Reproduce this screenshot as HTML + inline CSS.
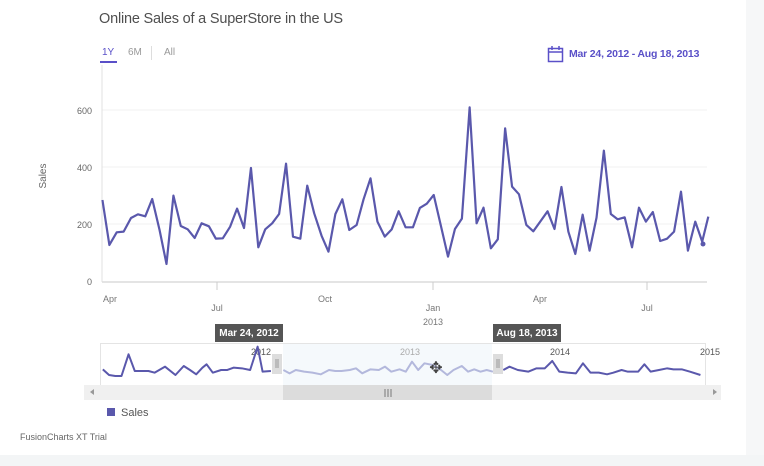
<!DOCTYPE html>
<html><head><meta charset="utf-8"><style>
body{margin:0;width:764px;height:466px;background:#fff;overflow:hidden;font-family:"Liberation Sans",sans-serif;position:relative}
.t{position:absolute;white-space:nowrap}
</style></head><body>
<div style="position:absolute;left:746px;top:0;width:18px;height:466px;background:#f6f7f8"></div>
<div style="position:absolute;left:0;top:455px;width:764px;height:11px;background:#f3f5f6"></div>
<div class="t" style="left:99px;top:11px;font-size:14.5px;letter-spacing:-0.2px;color:#4f4f4f">Online Sales of a SuperStore in the US</div>
<div class="t" style="left:102px;top:47px;font-size:10px;color:#5a50c8">1Y</div>
<div style="position:absolute;left:100px;top:61px;width:17px;height:2px;background:#5a50c8"></div>
<div class="t" style="left:128px;top:47px;font-size:10px;color:#999">6M</div>
<div style="position:absolute;left:151px;top:46px;width:1px;height:14px;background:#ddd"></div>
<div class="t" style="left:164px;top:47px;font-size:10px;color:#999">All</div>
<div class="t" style="left:569px;top:48px;font-size:10.5px;letter-spacing:-0.2px;font-weight:bold;color:#5a50c8">Mar 24, 2012 - Aug 18, 2013</div>
<svg style="position:absolute;left:0;top:0" width="764" height="466">
<rect x="548.5" y="48.5" width="14" height="13" fill="none" stroke="#5a50c8" stroke-width="1.5"/>
<line x1="548" y1="52" x2="563" y2="52" stroke="#5a50c8" stroke-width="1.5"/>
<line x1="552" y1="46" x2="552" y2="50" stroke="#5a50c8" stroke-width="1.5"/>
<line x1="559" y1="46" x2="559" y2="50" stroke="#5a50c8" stroke-width="1.5"/>
<g stroke="#f0f0f0"><line x1="102" y1="110" x2="707" y2="110"/><line x1="102" y1="167" x2="707" y2="167"/><line x1="102" y1="224" x2="707" y2="224"/></g>
<line x1="102" y1="65" x2="102" y2="282" stroke="#e0e0e0"/>
<line x1="102" y1="282" x2="707" y2="282" stroke="#dcdcdc" stroke-width="1.5"/>
<g font-size="9" fill="#666" text-anchor="end"><text x="92" y="114">600</text><text x="92" y="171">400</text><text x="92" y="228">200</text><text x="92" y="285">0</text></g>
<text x="46" y="176" font-size="10" fill="#666" transform="rotate(-90 46 176)" text-anchor="middle">Sales</text>
<g stroke="#ccc"><line x1="217" y1="282" x2="217" y2="290"/><line x1="433" y1="282" x2="433" y2="290"/><line x1="647" y1="282" x2="647" y2="290"/></g>
<g font-size="9" fill="#777" text-anchor="middle"><text x="110" y="302">Apr</text><text x="217" y="311">Jul</text><text x="325" y="302">Oct</text><text x="433" y="311">Jan</text><text x="433" y="325">2013</text><text x="540" y="302">Apr</text><text x="647" y="311">Jul</text></g>
<g transform="translate(80,90) scale(0.408,0.3333)">
<polyline fill="none" stroke="#5a58ac" stroke-width="2.2" vector-effect="non-scaling-stroke" stroke-linejoin="round" points="55,330 72,465 90,427 107,425 125,384 142,373 160,379 177,327 195,420 212,522 229,317 247,408 264,418 281,444 298,400 316,409 333,446 350,445 368,410 385,356 402,414 419,234 437,472 454,418 471,400 488,372 505,221 522,440 540,446 557,287 574,370 592,437 609,485 626,372 643,328 660,420 678,405 695,328 712,265 729,395 747,440 764,418 781,364 798,412 816,412 833,354 850,341 867,315 885,410 902,500 919,417 936,386 955,52 972,400 989,353 1007,475 1024,448 1042,115 1059,290 1076,313 1094,405 1111,424 1128,395 1146,364 1163,417 1180,291 1197,425 1214,492 1232,374 1249,482 1266,383 1284,182 1301,372 1318,388 1335,382 1353,472 1370,353 1387,395 1404,366 1422,453 1439,446 1456,425 1473,305 1490,482 1508,395 1525,455 1540,380"/>
</g>
<circle cx="703" cy="244" r="2.5" fill="#5a58ac"/>
<rect x="100.5" y="343.5" width="605" height="42" fill="#fff" stroke="#e4e4e4"/>
<rect x="283" y="344" width="209" height="41" fill="#f5f9fc"/>
<rect x="84" y="385" width="637" height="15" fill="#f0f0f0"/>
<rect x="283" y="385" width="209" height="15" fill="#dcdcdc"/>
<g stroke="#777"><line x1="385" y1="389" x2="385" y2="397"/><line x1="388" y1="389" x2="388" y2="397"/><line x1="391" y1="389" x2="391" y2="397"/></g>
<polygon points="90,392 94,389 94,395" fill="#999"/><polygon points="717,392 713,389 713,395" fill="#999"/>
<g font-size="9" fill="#555"><text x="251" y="355">2012</text><text x="400" y="355" fill="#aaa">2013</text><text x="550" y="355">2014</text><text x="700" y="355">2015</text></g>
<g transform="translate(80,320) scale(0.415,0.3333)" fill="none" stroke-width="2" stroke-linejoin="round">
<polyline vector-effect="non-scaling-stroke" stroke="#5a58ac" points="55,148 70,165 85,168 100,168 117,103 132,153 150,153 165,153 180,158 205,140 230,165 250,138 265,150 280,163 295,143 305,133 320,158 340,150 355,150 370,143 390,145 410,150 428,80 440,155 460,153"/>
<polyline vector-effect="non-scaling-stroke" stroke="#b3b8dc" points="490,150 505,160 520,150 540,155 560,158 580,163 600,150 615,153 630,153 650,150 665,145 680,160 700,148 720,150 735,140 750,155 770,148 785,155 800,125 815,150 830,130 850,135 870,150 885,165 900,150 920,138 935,155 950,148 965,155 980,150 995,155"/>
<polyline vector-effect="non-scaling-stroke" stroke="#5a58ac" points="1020,150 1035,140 1055,150 1080,155 1100,145 1120,145 1138,123 1155,155 1175,158 1195,160 1212,130 1230,158 1250,158 1270,163 1285,158 1305,150 1320,155 1345,155 1360,133 1375,155 1395,150 1415,145 1430,148 1450,148 1470,155 1495,165"/>
</g>
<rect x="272" y="354" width="10" height="20" fill="#ddd"/><rect x="493" y="354" width="10" height="20" fill="#ddd"/>
<g stroke="#999"><line x1="276" y1="359" x2="276" y2="368"/><line x1="278" y1="359" x2="278" y2="368"/><line x1="497" y1="359" x2="497" y2="368"/><line x1="499" y1="359" x2="499" y2="368"/></g>
<rect x="215" y="324" width="68" height="18" fill="#555"/>
<text x="249" y="336" font-size="10" font-weight="bold" fill="#fff" text-anchor="middle">Mar 24, 2012</text>
<rect x="493" y="324" width="68" height="18" fill="#555"/>
<text x="527" y="336" font-size="10" font-weight="bold" fill="#fff" text-anchor="middle">Aug 18, 2013</text>
<text x="436" y="373" font-size="16" fill="#444" text-anchor="middle">✥</text>
<rect x="107" y="408" width="8" height="8" fill="#5a58ac"/>
<text x="121" y="416" font-size="11" fill="#555">Sales</text>
<text x="20" y="440" font-size="9" fill="#666">FusionCharts XT Trial</text>
</svg>
</body></html>
